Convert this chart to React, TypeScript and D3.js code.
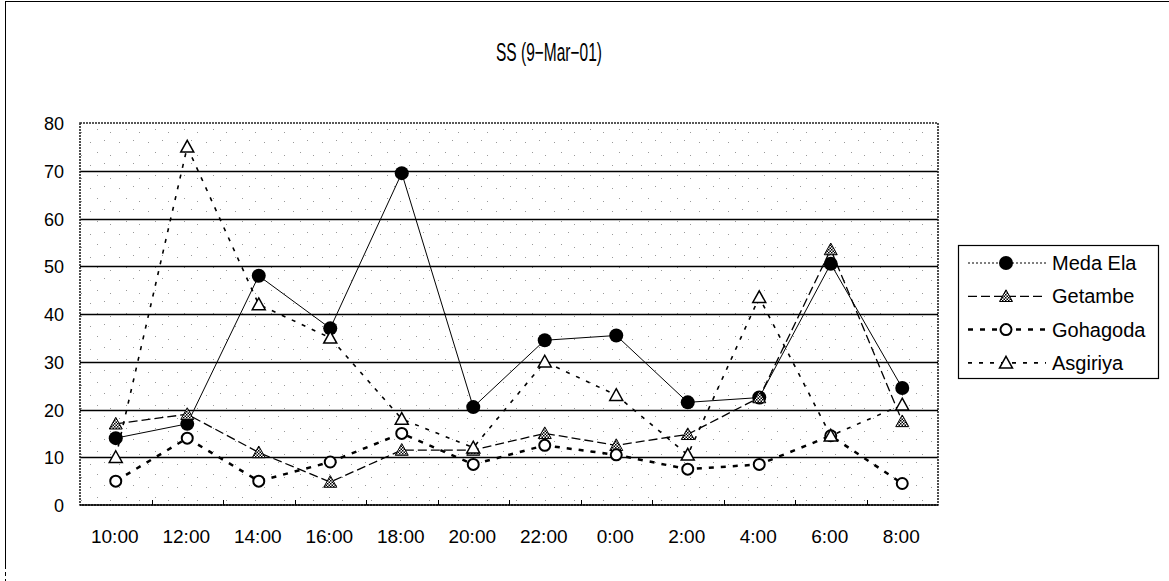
import React, { useEffect, useRef } from "react";
import * as d3 from "d3";

const categories = ["10:00", "12:00", "14:00", "16:00", "18:00", "20:00", "22:00", "0:00", "2:00", "4:00", "6:00", "8:00"];
const medaEla = [14, 17, 48, 37, 69.5, 20.5, 34.5, 35.5, 21.5, 22.5, 50.5, 24.5];
const getambe = [17, 19, 11, 4.8, 11.5, 11.5, 15, 12.5, 14.8, 22.5, 53.5, 17.5];
const gohagoda = [5, 14, 5, 9, 15, 8.5, 12.5, 10.5, 7.5, 8.5, 14.5, 4.5];
const asgiriya = [10, 75, 42, 35, 18, 12, 30, 23, 10.5, 43.5, 14.5, 21];
const yTicks = [0, 10, 20, 30, 40, 50, 60, 70, 80];

const W = 1169;
const H = 581;
const plot = { left: 80, top: 123, right: 938, bottom: 505 };
const FONT = "'Liberation Sans', Arial, sans-serif";

interface SeriesDef {
  name: string;
  values: number[];
  dash: string;
  width: number;
  marker: "dot" | "hatchTri" | "ring" | "tri";
}

const series: SeriesDef[] = [
  { name: "Meda Ela", values: medaEla, dash: "none", width: 1, marker: "dot" },
  { name: "Getambe", values: getambe, dash: "9,4", width: 1.3, marker: "hatchTri" },
  { name: "Gohagoda", values: gohagoda, dash: "5,7", width: 2.5, marker: "ring" },
  { name: "Asgiriya", values: asgiriya, dash: "4,7", width: 1.6, marker: "tri" },
];

function drawMarker(g: any, kind: string, cx: number, cy: number) {
  if (kind === "dot") {
    g.append("circle").attr("cx", cx).attr("cy", cy).attr("r", 7).attr("fill", "#000");
  } else if (kind === "ring") {
    g.append("circle")
      .attr("cx", cx)
      .attr("cy", cy)
      .attr("r", 5.5)
      .attr("fill", "#fff")
      .attr("stroke", "#000")
      .attr("stroke-width", 2);
  } else {
    const s = 6.5;
    const pts = [
      [cx, cy - s],
      [cx + s, cy + s * 0.8],
      [cx - s, cy + s * 0.8],
    ];
    g.append("path")
      .attr("d", "M" + pts.map((p) => p.join(",")).join("L") + "Z")
      .attr("fill", kind === "hatchTri" ? "url(#hatch)" : "#fff")
      .attr("stroke", "#000")
      .attr("stroke-width", kind === "hatchTri" ? 1 : 1.5);
  }
}

export default function App() {
  const ref = useRef<SVGSVGElement>(null);

  useEffect(() => {
    const svg = d3.select(ref.current);
    svg.selectAll("*").remove();

    const defs = svg.append("defs");
    const hatch = defs
      .append("pattern")
      .attr("id", "hatch")
      .attr("width", 3)
      .attr("height", 3)
      .attr("patternUnits", "userSpaceOnUse");
    hatch.append("rect").attr("width", 3).attr("height", 3).attr("fill", "#fff");
    hatch.append("rect").attr("width", 1.5).attr("height", 1.5).attr("fill", "#000");
    hatch.append("rect").attr("x", 1.5).attr("y", 1.5).attr("width", 1.5).attr("height", 1.5).attr("fill", "#000");

    // sparse speckle, like the scanned plot background
    const speckle = defs
      .append("pattern")
      .attr("id", "speckle")
      .attr("width", 29)
      .attr("height", 23)
      .attr("patternUnits", "userSpaceOnUse");
    speckle.append("rect").attr("width", 29).attr("height", 23).attr("fill", "#fff");
    [
      [3, 4],
      [17, 2],
      [10, 14],
      [23, 17],
    ].forEach(([px, py]) => {
      speckle.append("rect").attr("x", px).attr("y", py).attr("width", 1).attr("height", 1).attr("fill", "#999");
    });

    // outer chart frame (only top and left edges are visible in the scan)
    svg.append("line").attr("x1", 5).attr("x2", W).attr("y1", 1.5).attr("y2", 1.5).attr("stroke", "#000").attr("stroke-width", 1);
    svg.append("line").attr("x1", 5.5).attr("x2", 5.5).attr("y1", 1).attr("y2", 565).attr("stroke", "#000").attr("stroke-width", 1);
    svg.append("line")
      .attr("x1", 5.5)
      .attr("x2", 5.5)
      .attr("y1", 565)
      .attr("y2", H)
      .attr("stroke", "#000")
      .attr("stroke-dasharray", "4,3");

    svg.append("text")
      .attr("x", 496)
      .attr("y", 61)
      .attr("font-family", FONT)
      .attr("font-size", 25)
      .attr("textLength", 106)
      .attr("lengthAdjust", "spacingAndGlyphs")
      .text("SS (9\u2212Mar\u221201)");

    const x = d3
      .scaleBand()
      .domain(categories)
      .range([plot.left, plot.right]);
    const y = d3.scaleLinear().domain([0, 80]).range([plot.bottom, plot.top]);
    const cx = (c: string) => (x(c) as number) + x.bandwidth() / 2;

    svg.append("rect")
      .attr("x", plot.left)
      .attr("y", plot.top)
      .attr("width", plot.right - plot.left)
      .attr("height", plot.bottom - plot.top)
      .attr("fill", "url(#speckle)");

    // gridlines
    svg.append("g")
      .selectAll("line")
      .data(yTicks.filter((t) => t > 0 && t < 80))
      .join("line")
      .attr("x1", plot.left)
      .attr("x2", plot.right)
      .attr("y1", (d) => Math.round(y(d)) + 0.5)
      .attr("y2", (d) => Math.round(y(d)) + 0.5)
      .attr("stroke", "#000")
      .attr("stroke-width", 1.3);

    // plot border
    svg.append("rect")
      .attr("x", plot.left)
      .attr("y", plot.top)
      .attr("width", plot.right - plot.left)
      .attr("height", plot.bottom - plot.top)
      .attr("fill", "none")
      .attr("stroke", "#222")
      .attr("stroke-width", 1.6)
      .attr("stroke-dasharray", "2,1");
    svg.append("line")
      .attr("x1", plot.left)
      .attr("x2", plot.right)
      .attr("y1", plot.bottom)
      .attr("y2", plot.bottom)
      .attr("stroke", "#000")
      .attr("stroke-width", 1.5);

    // y axis labels
    svg.append("g")
      .selectAll("text")
      .data(yTicks)
      .join("text")
      .attr("x", 64)
      .attr("y", (d) => y(d) + 7)
      .attr("text-anchor", "end")
      .attr("font-family", FONT)
      .attr("font-size", 18)
      .text((d) => d);

    // x axis ticks + labels
    svg.append("g")
      .selectAll("line")
      .data(categories.slice(1))
      .join("line")
      .attr("x1", (d) => Math.round(x(d) as number) + 0.5)
      .attr("x2", (d) => Math.round(x(d) as number) + 0.5)
      .attr("y1", plot.bottom - 5)
      .attr("y2", plot.bottom)
      .attr("stroke", "#000");
    svg.append("g")
      .selectAll("text")
      .data(categories)
      .join("text")
      .attr("x", (d) => cx(d) - 1)
      .attr("y", 543)
      .attr("text-anchor", "middle")
      .attr("font-family", FONT)
      .attr("font-size", 19)
      .text((d) => d);

    const line = d3
      .line<number>()
      .x((d, i) => cx(categories[i]))
      .y((d) => y(d));

    series.forEach((s) => {
      svg.append("path")
        .datum(s.values)
        .attr("fill", "none")
        .attr("stroke", "#000")
        .attr("stroke-width", s.width)
        .attr("stroke-dasharray", s.dash)
        .attr("d", line);
    });
    series.forEach((s) => {
      const g = svg.append("g");
      s.values.forEach((v, i) => drawMarker(g, s.marker, cx(categories[i]), y(v)));
    });

    // legend
    const lg = svg.append("g");
    lg.append("rect")
      .attr("x", 958.5)
      .attr("y", 245.5)
      .attr("width", 200)
      .attr("height", 133)
      .attr("fill", "#fff")
      .attr("stroke", "#000")
      .attr("stroke-width", 1.2);
    series.forEach((s, i) => {
      const ly = 263 + i * 33.3;
      lg.append("line")
        .attr("x1", 968)
        .attr("x2", 1046)
        .attr("y1", ly)
        .attr("y2", ly)
        .attr("stroke", "#000")
        .attr("stroke-width", s.marker === "dot" ? 1 : s.width)
        .attr("stroke-dasharray", s.marker === "dot" ? "2,2" : s.dash);
      drawMarker(lg, s.marker, 1006, ly);
      lg.append("text")
        .attr("x", 1052)
        .attr("y", ly + 7)
        .attr("font-family", FONT)
        .attr("font-size", 20)
        .text(s.name);
    });
  }, []);

  return (
    <svg
      ref={ref}
      width={W}
      height={H}
      style={{ position: "absolute", left: 0, top: 0, background: "#fff" }}
    />
  );
}
